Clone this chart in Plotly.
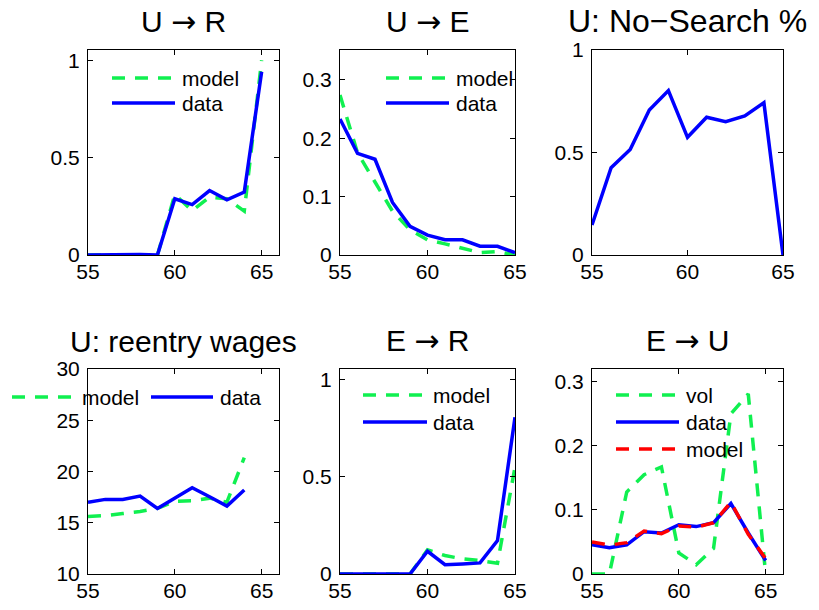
import plotly.graph_objects as go

# ---------------- data ----------------
ages = [55, 56, 57, 58, 59, 60, 61, 62, 63, 64, 65]
ages_w = [55, 56, 57, 58, 59, 60, 61, 62, 63, 64]

ur_model = [0, 0, 0, 0, 0, 0.311, 0.228, 0.297, 0.289, 0.225, 1.0]
ur_data = [0, 0.002, 0.003, 0.002, 0, 0.289, 0.259, 0.331, 0.283, 0.323, 0.941]

ue_model = [0.274, 0.175, 0.125, 0.075, 0.043, 0.026, 0.019, 0.011, 0.004, 0.006, 0.0]
ue_data = [0.233, 0.174, 0.164, 0.090, 0.049, 0.034, 0.026, 0.026, 0.015, 0.015, 0.004]

nosearch = [0.146, 0.426, 0.515, 0.707, 0.802, 0.574, 0.672, 0.650, 0.678, 0.743, 0.0]

wage_model = [15.6, 15.7, 15.9, 16.1, 16.4, 17.1, 17.15, 17.4, 17.0, 21.35]
wage_data = [17.0, 17.28, 17.28, 17.6, 16.39, 17.37, 18.42, 17.54, 16.62, 18.19]

er_model = [0, 0, 0, 0, 0, 0.124, 0.095, 0.078, 0.069, 0.055, 0.55]
er_data = [0, 0, 0, 0, 0, 0.117, 0.048, 0.052, 0.057, 0.172, 0.807]

eu_vol = [0, 0, 0.128, 0.155, 0.167, 0.033, 0.0145, 0.04, 0.250, 0.281, 0]
eu_data = [0.0456, 0.041, 0.0456, 0.066, 0.064, 0.077, 0.074, 0.080, 0.110, 0.064, 0.021]
eu_model = [0.050, 0.045, 0.049, 0.067, 0.063, 0.075, 0.073, 0.080, 0.112, 0.062, 0.024]

ARROW = '<span style="font-family:DejaVu Sans">\u2192</span>'
titles = ['U ' + ARROW + ' R', 'U ' + ARROW + ' E', 'U: No\u2212Search %',
          'U: reentry wages', 'E ' + ARROW + ' R', 'E ' + ARROW + ' U']
title_sizes = [30, 30, 32, 30, 30, 30]

GREEN = '#10f050'
BLUE = '#0000ff'
RED = '#ff0000'
DASH = '13px,10px'
LW = 3.5
FONT = 'Liberation Sans, Arial, sans-serif'

# page has an 8px body margin, so the figure is a bit smaller than the window
OFF = 8
W, H = 819 - 2 * OFF, 610 - 2 * OFF


def px(x):
    return (x - OFF) / W


def py(y):
    return 1 - (y - OFF) / H


# axis boxes in window pixels (left, right), (top, bottom)
cols = [(88, 279), (340, 515), (592, 783)]
rows = [(50, 255), (369, 574)]
title_gap = [9, 9]

fig = go.Figure()


def add_line(ax, x, y, color, dash):
    fig.add_trace(go.Scatter(
        x=x, y=y, mode='lines', xaxis='x' + ax, yaxis='y' + ax,
        line=dict(color=color, width=LW, dash=dash), showlegend=False,
        hoverinfo='skip',
    ))


add_line('', ages, ur_model, GREEN, DASH)
add_line('', ages, ur_data, BLUE, 'solid')
add_line('2', ages, ue_model, GREEN, DASH)
add_line('2', ages, ue_data, BLUE, 'solid')
add_line('3', ages, nosearch, BLUE, 'solid')
add_line('4', ages_w, wage_model, GREEN, DASH)
add_line('4', ages_w, wage_data, BLUE, 'solid')
add_line('5', ages, er_model, GREEN, DASH)
add_line('5', ages, er_data, BLUE, 'solid')
add_line('6', ages, eu_vol, GREEN, DASH)
add_line('6', ages, eu_data, BLUE, 'solid')
add_line('6', ages, eu_model, RED, DASH)

xranges = [[55, 66], [55, 65], [55, 65], [55, 66], [55, 65], [55, 66]]
yranges = [[0, 1.053], [0, 0.351], [0, 1], [10, 30], [0, 1.055], [0, 0.32]]
yticks = [[0, 0.5, 1], [0, 0.1, 0.2, 0.3], [0, 0.5, 1],
          [10, 15, 20, 25, 30], [0, 0.5, 1], [0, 0.1, 0.2, 0.3]]

axis_style = dict(
    showline=True, linecolor='black', linewidth=1, mirror='ticks',
    ticks='inside', ticklen=5, tickcolor='black', tickwidth=1,
    showgrid=False, zeroline=False, automargin=False,
    tickfont=dict(family=FONT, size=21, color='black'),
)

layout = {}
for i in range(6):
    r, c = divmod(i, 3)
    sfx = '' if i == 0 else str(i + 1)
    x0, x1 = cols[c]
    t, b = rows[r]
    layout['xaxis' + sfx] = dict(
        axis_style, domain=[px(x0), px(x1)], range=xranges[i],
        tickvals=[55, 60, 65], anchor='y' + sfx, ticklabelstandoff=-2,
    )
    layout['yaxis' + sfx] = dict(
        axis_style, domain=[py(b), py(t)], range=yranges[i],
        tickvals=yticks[i], anchor='x' + sfx, ticklabelstandoff=3,
    )
    fig.add_annotation(
        xref='paper', yref='paper', x=px((x0 + x1) / 2), y=py(t - title_gap[r]),
        text=titles[i], showarrow=False, xanchor='center', yanchor='bottom',
        font=dict(family=FONT, size=title_sizes[i], color='black'),
    )

fig.update_layout(**layout)


def legend_entry(x0, x1, y, color, dash, label, tx):
    fig.add_shape(type='line', xref='paper', yref='paper',
                  x0=px(x0), x1=px(x1), y0=py(y), y1=py(y),
                  line=dict(color=color, width=LW, dash=dash))
    fig.add_annotation(xref='paper', yref='paper', x=px(tx), y=py(y),
                       text=label, showarrow=False, xanchor='left',
                       yanchor='middle',
                       font=dict(family=FONT, size=21, color='black'))


# legends
legend_entry(112, 175, 78, GREEN, DASH, 'model', 180)
legend_entry(112, 175, 103, BLUE, 'solid', 'data', 180)
legend_entry(386, 449, 78, GREEN, DASH, 'model', 454)
legend_entry(386, 449, 103, BLUE, 'solid', 'data', 454)
legend_entry(12, 74, 397, GREEN, DASH, 'model', 80)
legend_entry(151, 213, 397, BLUE, 'solid', 'data', 218)
legend_entry(363, 427, 395, GREEN, DASH, 'model', 431)
legend_entry(363, 427, 422, BLUE, 'solid', 'data', 431)
legend_entry(616, 679, 395, GREEN, DASH, 'vol', 684)
legend_entry(616, 679, 422, BLUE, 'solid', 'data', 684)
legend_entry(616, 679, 449, RED, DASH, 'model', 684)

fig.update_layout(
    width=W, height=H,
    margin=dict(l=0, r=0, t=0, b=0),
    plot_bgcolor='white', paper_bgcolor='white',
    font=dict(family=FONT, color='black'),
    showlegend=False,
)

fig.write_html("out.html")
